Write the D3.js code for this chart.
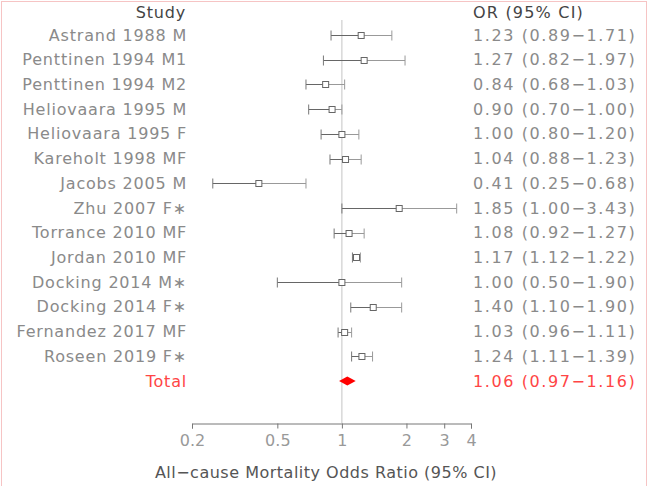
<!DOCTYPE html>
<html>
<head>
<meta charset="utf-8">
<script src="https://cdn.jsdelivr.net/npm/d3@7"></script>
<style>
  body { margin: 0; background: #fff; }
  text { font-family: "DejaVu Sans", sans-serif; }
</style>
</head>
<body>
<svg id="chart" width="649" height="486"></svg>
<script>
// study rows, top to bottom
var studies = ["Astrand 1988 M", "Penttinen 1994 M1", "Penttinen 1994 M2", "Heliovaara 1995 M",
  "Heliovaara 1995 F", "Kareholt 1998 MF", "Jacobs 2005 M", "Zhu 2007 F\u2217", "Torrance 2010 MF",
  "Jordan 2010 MF", "Docking 2014 M\u2217", "Docking 2014 F\u2217", "Fernandez 2017 MF", "Roseen 2019 F\u2217"];
var oddsRatio = [1.23, 1.27, 0.84, 0.90, 1.00, 1.04, 0.41, 1.85, 1.08, 1.17, 1.00, 1.40, 1.03, 1.24];
var ciLow     = [0.89, 0.82, 0.68, 0.70, 0.80, 0.88, 0.25, 1.00, 0.92, 1.12, 0.50, 1.10, 0.96, 1.11];
var ciHigh    = [1.71, 1.97, 1.03, 1.00, 1.20, 1.23, 0.68, 3.43, 1.27, 1.22, 1.90, 1.90, 1.11, 1.39];
var total = { label: "Total", or: 1.06, lo: 0.97, hi: 1.16 };
var tickValues = [0.2, 0.5, 1, 2, 3, 4];

var svg = d3.select("#chart");
var fmt = d3.format(".2f");

// faint frame round the picture
svg.append("rect").attr("x", 1.5).attr("y", 1.5).attr("width", 645).attr("height", 490)
  .attr("fill", "none").attr("stroke", "#f6c4c4");

var x = d3.scaleLog().domain([0.2, 4]).range([192, 471]);
var rows = studies.concat([total.label]);
var y = d3.scalePoint().domain(rows).range([35, 381]);

// headers
svg.append("text").attr("x", 186).attr("y", 12).attr("dy", "0.35em")
  .attr("text-anchor", "end").attr("font-size", 16).attr("letter-spacing", 0.8)
  .attr("fill", "#444").text("Study");
svg.append("text").attr("x", 473).attr("y", 12).attr("dy", "0.35em")
  .attr("font-size", 16).attr("letter-spacing", 1.2).attr("fill", "#444").text("OR (95% CI)");

// reference line at OR = 1
svg.append("line").attr("x1", x(1)).attr("x2", x(1)).attr("y1", 20).attr("y2", 423)
  .attr("stroke", "#c4c4c4").attr("stroke-width", 1);

// study labels
svg.selectAll(".study").data(studies).enter().append("text")
  .attr("class", "study")
  .attr("x", 187).attr("y", function (d) { return y(d); }).attr("dy", "0.35em")
  .attr("text-anchor", "end").attr("font-size", 16).attr("letter-spacing", 0.8).attr("fill", "#8a8a8a")
  .text(function (d) { return d; });

// OR text
svg.selectAll(".ortext").data(studies).enter().append("text")
  .attr("class", "ortext")
  .attr("x", 473).attr("y", function (d) { return y(d); }).attr("dy", "0.35em")
  .attr("font-size", 16).attr("letter-spacing", 1.6).attr("fill", "#8a8a8a")
  .text(function (d, i) { return fmt(oddsRatio[i]) + " (" + fmt(ciLow[i]) + "\u2212" + fmt(ciHigh[i]) + ")"; });

// whiskers
var g = svg.append("g").attr("class", "marks");
studies.forEach(function (s, i) {
  var yy = Math.round(y(s)) + 0.5;
  g.append("line").attr("x1", x(ciLow[i])).attr("x2", x(oddsRatio[i])).attr("y1", yy).attr("y2", yy)
    .attr("stroke", "#666");
  g.append("line").attr("x1", x(oddsRatio[i])).attr("x2", x(ciHigh[i])).attr("y1", yy).attr("y2", yy)
    .attr("stroke", "#999");
  g.append("line").attr("x1", x(ciLow[i])).attr("x2", x(ciLow[i])).attr("y1", yy - 5).attr("y2", yy + 5)
    .attr("stroke", "#777");
  g.append("line").attr("x1", x(ciHigh[i])).attr("x2", x(ciHigh[i])).attr("y1", yy - 5).attr("y2", yy + 5)
    .attr("stroke", "#999");
  g.append("rect").attr("x", x(oddsRatio[i]) - 3).attr("y", yy - 3).attr("width", 6).attr("height", 6)
    .attr("fill", "#fff").attr("stroke", "#666");
});

// total row
var ty = y(total.label);
svg.append("text").attr("x", 187).attr("y", ty).attr("dy", "0.35em")
  .attr("text-anchor", "end").attr("font-size", 16).attr("letter-spacing", 0.8)
  .attr("fill", "#ff4545").text(total.label);
svg.append("text").attr("x", 473).attr("y", ty).attr("dy", "0.35em")
  .attr("font-size", 16).attr("letter-spacing", 1.6).attr("fill", "#ff4545")
  .text(fmt(total.or) + " (" + fmt(total.lo) + "\u2212" + fmt(total.hi) + ")");
svg.append("path")
  .attr("d", "M" + x(total.lo) + "," + ty + "L" + x(total.or) + "," + (ty - 4.5) +
    "L" + x(total.hi) + "," + ty + "L" + x(total.or) + "," + (ty + 4.5) + "Z")
  .attr("fill", "#ff0000");

// x axis
var axis = svg.append("g").attr("transform", "translate(0,423.5)")
  .call(d3.axisBottom(x).tickValues(tickValues).tickFormat(d3.format("")).tickSize(5).tickPadding(6));
axis.select(".domain").attr("stroke", "#777");
axis.selectAll(".tick line").attr("stroke", "#777");
axis.selectAll(".tick text").attr("font-size", 16).attr("fill", "#999")
  .attr("font-family", "DejaVu Sans, sans-serif");

svg.append("text").attr("x", 326).attr("y", 472).attr("dy", "0.35em")
  .attr("text-anchor", "middle").attr("font-size", 16).attr("letter-spacing", 0.5).attr("fill", "#555")
  .text("All\u2212cause Mortality Odds Ratio (95% CI)");
</script>
</body>
</html>
